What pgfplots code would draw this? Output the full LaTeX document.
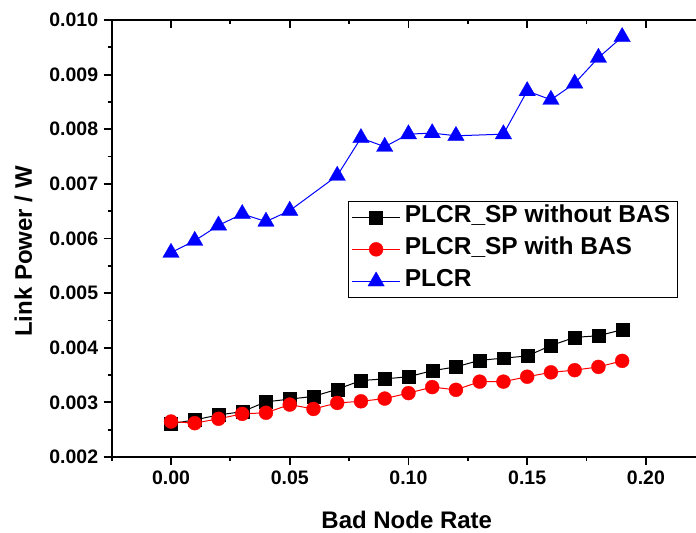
\documentclass[border=0pt]{standalone}
\usepackage{fontspec}
\setmainfont{Liberation Sans}
\usepackage{pgfplots}
\pgfplotsset{compat=1.18}
\begin{document}
\begin{tikzpicture}
\pgfplotsset{
  common/.style={
    scale only axis, width=584.7pt, height=437.3pt,
    xmin=-0.025, xmax=0.2211, ymin=0.002, ymax=0.010,
    xtick={0,0.05,0.1,0.15,0.2},
    minor xtick={-0.025,0.025,0.075,0.125,0.175},
    major tick length=8pt, minor tick length=4pt,
    tick style={black, line width=1.8pt},
    axis line style={line width=2pt},
    scaled ticks=false,
  }
}
\begin{axis}[common, name=ax,
  axis x line*=bottom, axis y line*=left,
  tick align=outside,
  ytick={0.002,0.003,0.004,0.005,0.006,0.007,0.008,0.009,0.010},
  minor ytick={0.0025,0.0035,0.0045,0.0055,0.0065,0.0075,0.0085,0.0095},
  xticklabel style={/pgf/number format/fixed, /pgf/number format/fixed zerofill, /pgf/number format/precision=2, /pgf/number format/assume math mode=true, yshift=-2pt},
  yticklabel style={/pgf/number format/fixed, /pgf/number format/fixed zerofill, /pgf/number format/precision=3, /pgf/number format/assume math mode=true, xshift=-2pt},
  tick label style={font=\fontsize{19.5}{19.5}\selectfont\bfseries},
  xlabel={Bad Node Rate}, ylabel={Link Power / W},
  label style={font=\fontsize{24}{24}\selectfont\bfseries},
  xlabel style={at={(axis description cs:0.505,-0.1624)}, anchor=base},
  ylabel style={at={(axis description cs:-0.1363,0.47)}, anchor=base},
  legend style={at={(axis description cs:0.4047,0.5861)}, anchor=north west,
    draw=black, line width=1pt, inner xsep=3pt, inner ysep=0pt,
    font=\fontsize{24.5}{24.5}\selectfont\bfseries,
    nodes={inner xsep=4.3pt, inner ysep=4.5pt, text height=17pt, text depth=6pt}},
  legend cell align=left,
  legend image code/.code={\draw[#1, mark repeat=2, mark phase=2] plot coordinates {(0pt,0pt) (24pt,0pt) (48pt,0pt)};},
]
\addplot[black, line width=1pt, mark=square*, mark size=6.5pt, mark options={solid, line width=0.3pt}] coordinates {
(0.00,0.00261) (0.01,0.00268) (0.02,0.00277) (0.03,0.00283) (0.04,0.00301)
(0.05,0.00306) (0.06,0.00311) (0.07,0.00324) (0.08,0.00340) (0.09,0.00343)
(0.10,0.00347) (0.11,0.00358) (0.12,0.00365) (0.13,0.00377) (0.14,0.00381)
(0.15,0.00385) (0.16,0.00404) (0.17,0.00419) (0.18,0.00422) (0.19,0.00433)};
\addlegendentry{PLCR\_SP without BAS}
\addplot[red, line width=1pt, mark=*, mark size=7pt, mark options={solid, line width=0.3pt}] coordinates {
(0.00,0.00265) (0.01,0.00262) (0.02,0.00270) (0.03,0.00279) (0.04,0.00281)
(0.05,0.00296) (0.06,0.00288) (0.07,0.00299) (0.08,0.00302) (0.09,0.00307)
(0.10,0.00317) (0.11,0.00328) (0.12,0.00323) (0.13,0.00338) (0.14,0.00338)
(0.15,0.00347) (0.16,0.00355) (0.17,0.00359) (0.18,0.00365) (0.19,0.00376)};
\addlegendentry{PLCR\_SP with BAS}
\addplot[blue, line width=1pt, mark=triangle*, mark size=9.5pt, mark options={solid, line width=0.3pt}] coordinates {
(0.00,0.00574) (0.01,0.00596) (0.02,0.00624) (0.03,0.00645) (0.04,0.00631)
(0.05,0.00651) (0.07,0.00715) (0.08,0.00784) (0.09,0.00768) (0.10,0.00791)
(0.11,0.00793) (0.12,0.00788) (0.14,0.00791) (0.15,0.00870) (0.16,0.00854)
(0.17,0.00884) (0.18,0.00931) (0.19,0.00969)};
\addlegendentry{PLCR}
\end{axis}
\begin{axis}[common, axis x line*=top, axis y line=none, tick align=inside,
  xticklabels={}, ytick=\empty]
\end{axis}
\pgfresetboundingbox
\path[use as bounding box] ([shift={(-111.7pt,-75.7pt)}]ax.south west) rectangle ([shift={(0pt,20pt)}]ax.north east);
\end{tikzpicture}
\end{document}
